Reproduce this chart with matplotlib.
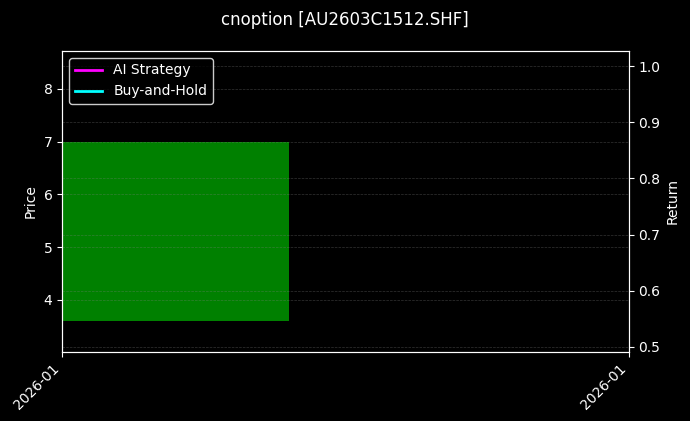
import matplotlib
matplotlib.use("Agg")
import matplotlib.pyplot as plt
import matplotlib.dates as mdates
import pandas as pd

# single daily bar, no return series drawn
dates = pd.to_datetime(["2026-01-05"])
opens = [3.6]
closes = [7.0]
strategy_returns = []
hold_returns = []
tick_labels = ["2026-01", "2026-01"]

plt.style.use("dark_background")
fig, ax = plt.subplots(figsize=(6.9, 4.21), dpi=100)
fig.patch.set_facecolor("black")
ax.set_facecolor("black")

# candle body
x0 = mdates.date2num(dates[0])
for d, o, c in zip(dates, opens, closes):
    ax.bar(mdates.date2num(d), c - o, bottom=o, width=0.4, align="edge",
           color="green", edgecolor="green", linewidth=0)

ax.set_xlim(x0, x0 + 1)
ax.set_ylim(3.01, 8.72)
ax.set_ylabel("Price")
ax.set_xticks([x0, x0 + 1])
ax.set_xticklabels(tick_labels, rotation=45, ha="right")
ax.grid(True, color="gray", linestyle="--", linewidth=0.5, alpha=0.4)

ax2 = ax.twinx()
ax2.plot([], [], color="magenta", linewidth=2, label="AI Strategy")
ax2.plot([], [], color="cyan", linewidth=2, label="Buy-and-Hold")
ax2.set_ylim(0.491, 1.027)
ax2.set_ylabel("Return")
ax2.grid(True, color="gray", linestyle="--", linewidth=0.5, alpha=0.4)

leg = ax2.legend(loc="upper left", facecolor="black", edgecolor="white")

fig.suptitle("cnoption [AU2603C1512.SHF]", fontsize=12, y=0.975)
fig.subplots_adjust(left=0.09, right=0.911, top=0.879, bottom=0.164)
fig.savefig("out.png", dpi=100, facecolor="black")
